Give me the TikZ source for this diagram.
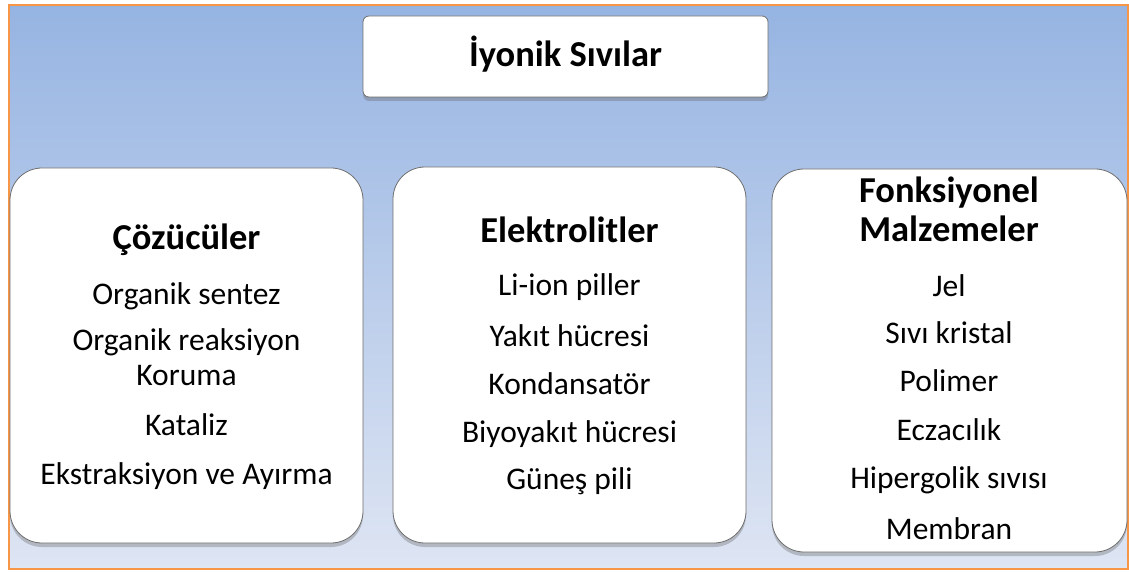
\documentclass[tikz,border=0pt]{standalone}
\usepackage{fontspec}
\setmainfont{Carlito}
\usetikzlibrary{shadows}
\definecolor{bgtop}{RGB}{150,180,226}
\definecolor{bgbot}{RGB}{222,229,243}
\definecolor{frameor}{RGB}{247,150,70}
\definecolor{boxline}{RGB}{110,110,110}
\tikzset{
  panel/.style={draw=boxline, line width=0.8pt, fill=white, rounded corners=32pt,
    inner sep=0pt, outer sep=0pt,
    drop shadow={shadow xshift=0pt, shadow yshift=-4pt, opacity=0.35, fill=black!60}},
  titlebox/.style={panel, rounded corners=6pt},
  head/.style={anchor=base, inner sep=0pt, font=\fontsize{36.5}{40}\selectfont\bfseries},
  item/.style={anchor=base, inner sep=0pt, font=\fontsize{31.5}{36}\selectfont}
}
\begin{document}
\begin{tikzpicture}[x=1pt,y=1pt]
\useasboundingbox (0,0) rectangle (1129,571);
\shade[top color=bgtop, bottom color=bgbot] (9,2) rectangle (1128,566);
\draw[frameor, line width=2pt] (9,2) rectangle (1128,566);

\node[titlebox, minimum width=405pt, minimum height=81pt] (title) at (565.5,514.5) {};
\node[head] (titletxt) at (565.5,504) {İyonik Sıvılar};

\node[panel, minimum width=353pt, minimum height=375pt] (solv) at (186.5,215.5) {};
\node[panel, minimum width=353pt, minimum height=376pt] (elec) at (569.5,216) {};
\node[panel, minimum width=355pt, minimum height=383pt] (func) at (949.5,210.5) {};

\node[head] (h1) at (186.5,321) {Çözücüler};
\node[item] (s1) at (186.5,267) {Organik sentez};
\node[item] (s2) at (186.5,221) {Organik reaksiyon};
\node[item] (s3) at (186.5,186) {Koruma};
\node[item] (s4) at (186.5,136) {Kataliz};
\node[item] (s5) at (186.5,87) {Ekstraksiyon ve Ayırma};

\node[head] (h2) at (569.5,328) {Elektrolitler};
\node[item] (e1) at (569.5,276) {Li-ion piller};
\node[item] (e2) at (569.5,225) {Yakıt hücresi};
\node[item] (e3) at (569.5,177) {Kondansatör};
\node[item] (e4) at (569.5,129) {Biyoyakıt hücresi};
\node[item] (e5) at (569.5,82) {Güneş pili};

\node[head] (h3a) at (949,368) {Fonksiyonel};
\node[head] (h3b) at (949,329) {Malzemeler};
\node[item] (f1) at (949,275) {Jel};
\node[item] (f2) at (949,228) {Sıvı kristal};
\node[item] (f3) at (949,180) {Polimer};
\node[item] (f4) at (949,131) {Eczacılık};
\node[item] (f5) at (949,83) {Hipergolik sıvısı};
\node[item] (f6) at (949,32) {Membran};
\end{tikzpicture}
\end{document}
